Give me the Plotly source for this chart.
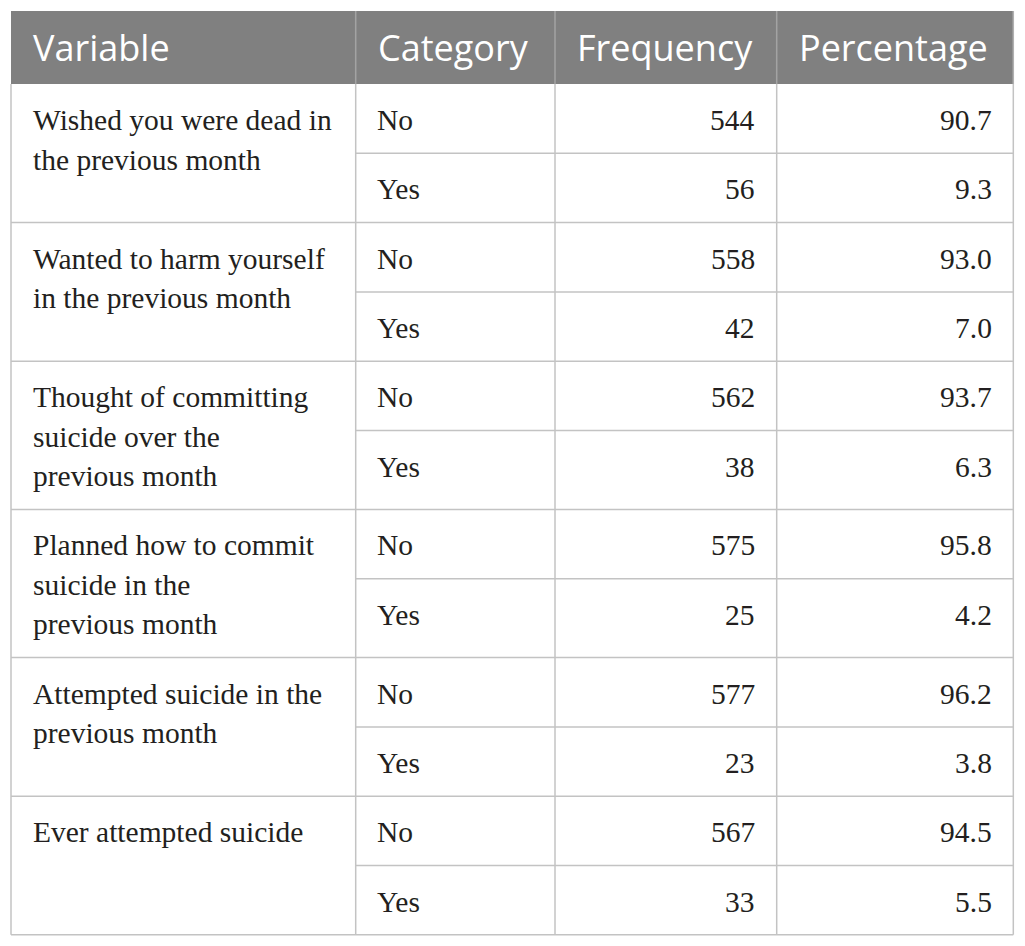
#!/usr/bin/env python3
"""Suicidal ideation / behaviour frequency table, drawn with Plotly shapes and annotations."""

import plotly.graph_objects as go

# ---- data -------------------------------------------------------------
headers = ["Variable", "Category", "Frequency", "Percentage"]
variables = [
    "Wished you were dead in<br>the previous month",
    "Wanted to harm yourself<br>in the previous month",
    "Thought of committing<br>suicide over the<br>previous month",
    "Planned how to commit<br>suicide in the<br>previous month",
    "Attempted suicide in the<br>previous month",
    "Ever attempted suicide",
]
categories = ["No", "Yes"]
frequency = [544, 56, 558, 42, 562, 38, 575, 25, 577, 23, 567, 33]
percentage = [90.7, 9.3, 93.0, 7.0, 93.7, 6.3, 95.8, 4.2, 96.2, 3.8, 94.5, 5.5]

# ---- layout constants (page pixels) ----------------------------------
W, H = 1025, 946
BODY_MARGIN = 8  # the html body keeps its default 8px margin
col_x = [11, 355.7, 555, 776.7, 1013.3]
top, header_bottom = 11, 84
row_h = 69.3
line_h = 39.5
first_base = 46  # first baseline below the row top
bottom_pad = 23.2
pad_l, pad_r = 19.5, 19.5
body_size = 29.5

serif = "Liberation Serif, Times New Roman, serif"
sans = "Open Sans, Noto Sans, sans-serif"
text_col = "#231f20"
grid_col = "#c3c3c3"

shapes = []
annotations = []


def add_text(x, baseline, text, anchor, font, size, color):
    # center of the text box sits a bit above the baseline
    offset = 0.3375 * size if font == serif else 0.39 * size
    annotations.append(dict(
        x=x, y=baseline - offset, text=text, showarrow=False,
        xanchor=anchor, yanchor="middle", xref="x", yref="y",
        font=dict(family=font, size=size, color=color),
    ))


# header band
shapes.append(dict(type="rect", x0=col_x[0], x1=col_x[-1], y0=top, y1=header_bottom,
                   fillcolor="#808080", line=dict(width=0), layer="below"))
for cx in col_x[1:-1]:
    shapes.append(dict(type="line", x0=cx, x1=cx, y0=top, y1=header_bottom,
                       line=dict(color="#a3a3a3", width=1.5)))
for i, h in enumerate(headers):
    add_text(col_x[i] + 20, 61.7, h, "left", sans, 36, "white")

# body rows
y = header_bottom
row_edges = [y]
for g, var in enumerate(variables):
    lines = var.split("<br>")
    group_h = max(2 * row_h, first_base + (len(lines) - 1) * line_h + bottom_pad)
    g_top = y
    for j, ln in enumerate(lines):
        add_text(col_x[0] + pad_l, g_top + first_base + j * line_h, ln, "left", serif, body_size, text_col)
    row_tops = [g_top, g_top + row_h]
    for k, cat in enumerate(categories):
        idx = 2 * g + k
        base = row_tops[k] + first_base
        add_text(col_x[1] + pad_l, base, cat, "left", serif, body_size, text_col)
        add_text(col_x[3] - pad_r, base, str(frequency[idx]), "right", serif, body_size, text_col)
        add_text(col_x[4] - pad_r, base, f"{percentage[idx]:.1f}", "right", serif, body_size, text_col)
    # line between No and Yes (not across the merged variable cell)
    shapes.append(dict(type="line", x0=col_x[1], x1=col_x[-1], y0=g_top + row_h, y1=g_top + row_h,
                       line=dict(color=grid_col, width=1.5)))
    y = g_top + group_h
    row_edges.append(y)

for ry in row_edges[1:]:
    shapes.append(dict(type="line", x0=col_x[0], x1=col_x[-1], y0=ry, y1=ry,
                       line=dict(color=grid_col, width=1.5)))
for cx in col_x:
    shapes.append(dict(type="line", x0=cx, x1=cx, y0=header_bottom, y1=row_edges[-1],
                       line=dict(color=grid_col, width=1.5)))
shapes.append(dict(type="line", x0=col_x[-1], x1=col_x[-1], y0=top, y1=header_bottom,
                   line=dict(color="#b0b0b0", width=1.5)))

fig = go.Figure()
fig.update_layout(
    width=W - 2 * BODY_MARGIN, height=H - 2 * BODY_MARGIN,
    margin=dict(t=0, l=0, r=0, b=0),
    paper_bgcolor="white", plot_bgcolor="white",
    xaxis=dict(range=[BODY_MARGIN, W - BODY_MARGIN], visible=False, fixedrange=True),
    yaxis=dict(range=[H - BODY_MARGIN, BODY_MARGIN], visible=False, fixedrange=True),
    shapes=shapes,
    annotations=annotations,
    showlegend=False,
)

fig.write_html("out.html")
